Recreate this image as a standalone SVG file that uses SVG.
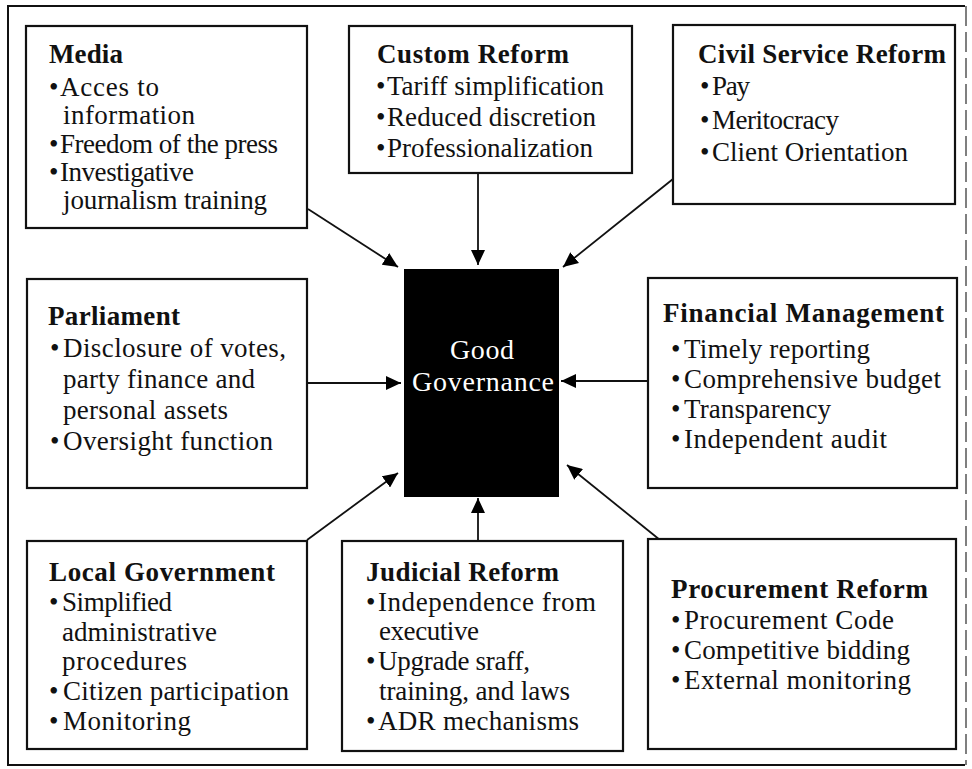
<svg xmlns="http://www.w3.org/2000/svg" width="972" height="769" viewBox="0 0 972 769">
<defs>
<marker id="ah" markerUnits="userSpaceOnUse" markerWidth="16" markerHeight="14" refX="15" refY="7" orient="auto">
<path d="M0,0 L15,7 L0,14 Z" fill="#000"/>
</marker>
<style>
.box{fill:#fff;stroke:#111;stroke-width:2.2}
.t{font-family:"Liberation Serif","Times New Roman",serif;font-size:27px;fill:#111}
.h{font-weight:bold}
.c{stroke:#111;stroke-width:1.8;fill:none;marker-end:url(#ah)}
.gg{font-family:"Liberation Serif","Times New Roman",serif;font-size:28px;fill:#fff;text-anchor:middle}
</style>
</defs>
<rect width="972" height="769" fill="#fff"/>
<g id="frame">
<path d="M965,6 L8,6 L8,765 L965,765" fill="none" stroke="#111" stroke-width="2"/>
<line x1="966" y1="6" x2="966" y2="765" stroke="#555" stroke-width="1.5" stroke-dasharray="20,6"/>
</g>
<g id="connectors">
<line class="c" x1="308" y1="209" x2="398" y2="267"/>
<line class="c" x1="478" y1="173" x2="478" y2="265"/>
<line class="c" x1="673" y1="179" x2="563" y2="267"/>
<line class="c" x1="307" y1="383" x2="401" y2="383"/>
<line class="c" x1="648" y1="381" x2="561" y2="381"/>
<line class="c" x1="307" y1="540" x2="398" y2="473"/>
<line class="c" x1="478" y1="541" x2="478" y2="498"/>
<line class="c" x1="660" y1="540" x2="567" y2="465"/>
</g>
<g id="media">
<rect class="box" x="26" y="26" width="281" height="202"/>
<text class="t h" x="49" y="63" textLength="74">Media</text>
<text class="t" x="49" y="96">•</text>
<text class="t" x="60" y="96" textLength="99">Acces to</text>
<text class="t" x="63" y="124" textLength="132">information</text>
<text class="t" x="49" y="153">•</text>
<text class="t" x="60" y="153" textLength="218">Freedom of the press</text>
<text class="t" x="49" y="181">•</text>
<text class="t" x="60" y="181" textLength="134">Investigative</text>
<text class="t" x="63" y="209" textLength="204">journalism training</text>
</g>
<g id="custom">
<rect class="box" x="349" y="26" width="283" height="147"/>
<text class="t h" x="377" y="63" textLength="192">Custom Reform</text>
<text class="t" x="376" y="95">•</text>
<text class="t" x="387" y="95" textLength="217">Tariff simplification</text>
<text class="t" x="376" y="126">•</text>
<text class="t" x="387" y="126" textLength="209">Reduced discretion</text>
<text class="t" x="376" y="157">•</text>
<text class="t" x="387" y="157" textLength="206">Professionalization</text>
</g>
<g id="civil">
<rect class="box" x="673" y="25" width="282" height="179"/>
<text class="t h" x="698" y="63" textLength="248">Civil Service Reform</text>
<text class="t" x="700" y="95">•</text>
<text class="t" x="712" y="95" textLength="38">Pay</text>
<text class="t" x="700" y="129">•</text>
<text class="t" x="712" y="129" textLength="127">Meritocracy</text>
<text class="t" x="700" y="161">•</text>
<text class="t" x="712" y="161" textLength="196">Client Orientation</text>
</g>
<g id="parliament">
<rect class="box" x="27" y="279" width="280" height="209"/>
<text class="t h" x="48" y="325" textLength="132">Parliament</text>
<text class="t" x="50" y="357">•</text>
<text class="t" x="63" y="357" textLength="223">Disclosure of votes,</text>
<text class="t" x="63" y="388" textLength="192">party finance and</text>
<text class="t" x="63" y="419" textLength="165">personal assets</text>
<text class="t" x="50" y="450">•</text>
<text class="t" x="63" y="450" textLength="210">Oversight function</text>
</g>
<g id="good-governance">
<rect x="404" y="269" width="155" height="228" fill="#000"/>
<text class="gg" x="482" y="359" textLength="64">Good</text>
<text class="gg" x="483" y="391" textLength="142">Governance</text>
</g>
<g id="financial">
<rect class="box" x="648" y="278" width="309" height="210"/>
<text class="t h" x="663" y="322" textLength="281">Financial Management</text>
<text class="t" x="671" y="358">•</text>
<text class="t" x="684" y="358" textLength="186">Timely reporting</text>
<text class="t" x="671" y="388">•</text>
<text class="t" x="684" y="388" textLength="257">Comprehensive budget</text>
<text class="t" x="671" y="418">•</text>
<text class="t" x="684" y="418" textLength="147">Transparency</text>
<text class="t" x="671" y="448">•</text>
<text class="t" x="684" y="448" textLength="203">Independent audit</text>
</g>
<g id="local">
<rect class="box" x="27" y="541" width="280" height="208"/>
<text class="t h" x="49" y="581" textLength="226">Local Government</text>
<text class="t" x="49" y="611">•</text>
<text class="t" x="62" y="611" textLength="110">Simplified</text>
<text class="t" x="62" y="641" textLength="155">administrative</text>
<text class="t" x="62" y="670" textLength="125">procedures</text>
<text class="t" x="49" y="700">•</text>
<text class="t" x="63" y="700" textLength="226">Citizen participation</text>
<text class="t" x="49" y="730">•</text>
<text class="t" x="63" y="730" textLength="128">Monitoring</text>
</g>
<g id="judicial">
<rect class="box" x="342" y="541" width="281" height="210"/>
<text class="t h" x="366" y="581" textLength="193">Judicial Reform</text>
<text class="t" x="366" y="611">•</text>
<text class="t" x="378" y="611" textLength="218">Independence from</text>
<text class="t" x="379" y="640" textLength="100">executive</text>
<text class="t" x="366" y="670">•</text>
<text class="t" x="378" y="670" textLength="152">Upgrade sraff,</text>
<text class="t" x="379" y="700" textLength="191">training, and laws</text>
<text class="t" x="366" y="730">•</text>
<text class="t" x="378" y="730" textLength="201">ADR mechanisms</text>
</g>
<g id="procurement">
<rect class="box" x="648" y="539" width="308" height="210"/>
<text class="t h" x="671" y="598" textLength="257">Procurement Reform</text>
<text class="t" x="671" y="629">•</text>
<text class="t" x="684" y="629" textLength="210">Procurement Code</text>
<text class="t" x="671" y="659">•</text>
<text class="t" x="684" y="659" textLength="226">Competitive bidding</text>
<text class="t" x="671" y="689">•</text>
<text class="t" x="684" y="689" textLength="227">External monitoring</text>
</g>
</svg>
